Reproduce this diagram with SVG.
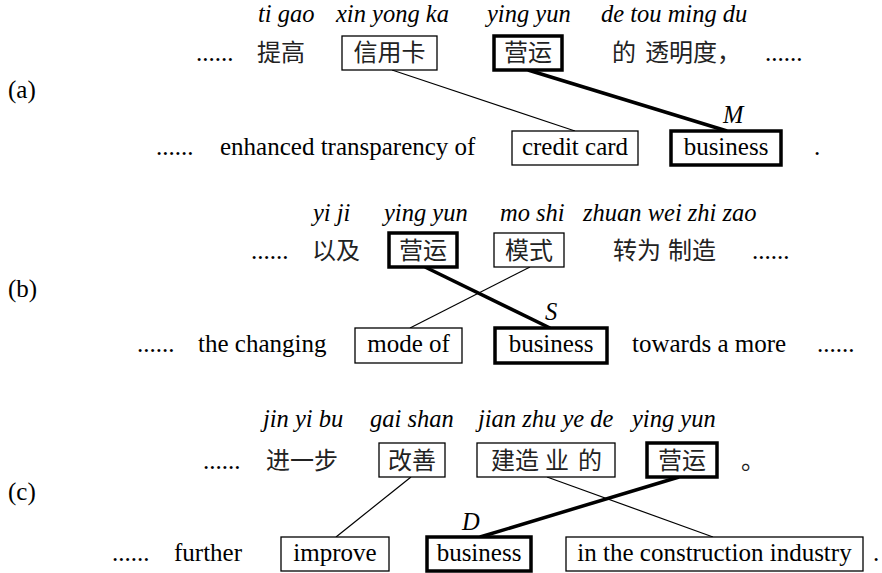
<svg xmlns="http://www.w3.org/2000/svg" width="882" height="573" viewBox="0 0 882 573">
<style>
.en{font-family:'Liberation Serif','DejaVu Serif','Noto Serif',serif;font-size:25px;fill:#000}
.py{font-family:'Liberation Serif','DejaVu Serif','Noto Serif',serif;font-size:24.5px;font-style:italic;fill:#000}
.zh{font-family:'Noto Sans CJK SC','Noto Sans CJK JP',sans-serif;font-size:24px;fill:#222}
.c{text-anchor:middle}
.box{fill:#fff;stroke:#000;stroke-width:1.3}
.tbox{fill:#fff;stroke:#000;stroke-width:3.5}
.thin{stroke:#000;stroke-width:1.2;fill:none}
.thick{stroke:#000;stroke-width:3.5;fill:none}
</style>
<rect width="882" height="573" fill="#fff"/>

<g id="connectors">
  <line class="thin" x1="392" y1="70" x2="575" y2="131"/>
  <line class="thick" x1="528" y1="70" x2="727" y2="131"/>
  <line class="thick" x1="425" y1="267" x2="550" y2="328"/>
  <line class="thin" x1="530" y1="267" x2="410" y2="328"/>
  <line class="thin" x1="411" y1="477" x2="336" y2="537"/>
  <line class="thin" x1="547" y1="477" x2="713" y2="537"/>
  <line class="thick" x1="679" y1="477" x2="480" y2="537"/>
</g>

<g id="labels">
  <text class="en" x="8" y="98" font-family="Liberation Serif, serif">(a)</text>
  <text class="en" x="8" y="297">(b)</text>
  <text class="en" x="8" y="500">(c)</text>
</g>

<!-- Row (a) -->
<g id="a-pinyin">
  <text class="py" x="258" y="22">ti gao</text>
  <text class="py" x="336" y="22">xin yong ka</text>
  <text class="py" x="487" y="22">ying yun</text>
  <text class="py" x="601" y="22">de tou ming du</text>
</g>
<g id="a-zh-dots1"><text class="en" x="196" y="61">......</text></g>
<g id="a-zh-tigao"><text class="zh" x="257" y="61">提高</text></g>
<g id="a-zh-xinyongka">
  <rect class="box" x="342" y="36" width="95" height="34"/>
  <text class="zh c" x="389.5" y="61">信用卡</text>
</g>
<g id="a-zh-yingyun">
  <rect class="tbox" x="494" y="36" width="68" height="34"/>
  <text class="zh c" x="528" y="61">营运</text>
</g>
<g id="a-zh-rest"><text class="zh" x="612" y="61">的<tspan x="645">透明度，</tspan></text></g>
<g id="a-zh-dots2"><text class="en" x="765" y="61">......</text></g>

<g id="a-en-dots"><text class="en" x="156" y="155">......</text></g>
<g id="a-en-enhanced"><text class="en" x="220" y="155">enhanced transparency of</text></g>
<g id="a-en-creditcard">
  <rect class="box" x="512" y="131" width="126" height="34"/>
  <text class="en c" x="575" y="155">credit card</text>
</g>
<g id="a-en-business">
  <rect class="tbox" x="671" y="131" width="110" height="34"/>
  <text class="en c" x="726" y="155">business</text>
  <text class="py" x="723" y="123">M</text>
</g>
<g id="a-en-period"><text class="en" x="814" y="155">.</text></g>

<!-- Row (b) -->
<g id="b-pinyin">
  <text class="py" x="313" y="221">yi ji</text>
  <text class="py" x="384" y="221">ying yun</text>
  <text class="py" x="500" y="221">mo shi</text>
  <text class="py" x="583" y="221">zhuan wei zhi zao</text>
</g>
<g id="b-zh-dots1"><text class="en" x="251" y="259">......</text></g>
<g id="b-zh-yiji"><text class="zh" x="312" y="259">以及</text></g>
<g id="b-zh-yingyun">
  <rect class="tbox" x="389" y="233" width="68" height="34"/>
  <text class="zh c" x="423" y="259">营运</text>
</g>
<g id="b-zh-moshi">
  <rect class="box" x="494" y="233" width="70" height="34"/>
  <text class="zh c" x="529" y="259">模式</text>
</g>
<g id="b-zh-rest"><text class="zh" x="613" y="259">转为<tspan x="668">制造</tspan></text></g>
<g id="b-zh-dots2"><text class="en" x="752" y="259">......</text></g>

<g id="b-en-dots1"><text class="en" x="137" y="352">......</text></g>
<g id="b-en-changing"><text class="en" x="198" y="352">the changing</text></g>
<g id="b-en-modeof">
  <rect class="box" x="355" y="328" width="107" height="35"/>
  <text class="en c" x="408.5" y="352">mode of</text>
</g>
<g id="b-en-business">
  <rect class="tbox" x="495" y="328" width="112" height="35"/>
  <text class="en c" x="551" y="352">business</text>
  <text class="py" x="545" y="320">S</text>
</g>
<g id="b-en-towards"><text class="en" x="632" y="352">towards a more</text></g>
<g id="b-en-dots2"><text class="en" x="817" y="352">......</text></g>

<!-- Row (c) -->
<g id="c-pinyin">
  <text class="py" x="263" y="427">jin yi bu</text>
  <text class="py" x="370" y="427">gai shan</text>
  <text class="py" x="478" y="427">jian zhu ye de</text>
  <text class="py" x="632" y="427">ying yun</text>
</g>
<g id="c-zh-dots"><text class="en" x="203" y="469">......</text></g>
<g id="c-zh-jinyibu"><text class="zh" x="266" y="469">进一步</text></g>
<g id="c-zh-gaishan">
  <rect class="box" x="379" y="443" width="66" height="34"/>
  <text class="zh c" x="412" y="469">改善</text>
</g>
<g id="c-zh-jianzhuyede">
  <rect class="box" x="477" y="443" width="138" height="34"/>
  <text class="zh" x="491" y="469">建造<tspan x="545">业</tspan><tspan x="578">的</tspan></text>
</g>
<g id="c-zh-yingyun">
  <rect class="tbox" x="647" y="443" width="70" height="34"/>
  <text class="zh c" x="682" y="469">营运</text>
</g>
<g id="c-zh-period"><text class="zh" x="741" y="469">。</text></g>

<g id="c-en-dots"><text class="en" x="112" y="561">......</text></g>
<g id="c-en-further"><text class="en" x="174" y="561">further</text></g>
<g id="c-en-improve">
  <rect class="box" x="281" y="537" width="108" height="34"/>
  <text class="en c" x="335" y="561">improve</text>
</g>
<g id="c-en-business">
  <rect class="tbox" x="427" y="537" width="104" height="34"/>
  <text class="en c" x="479" y="561">business</text>
  <text class="py" x="462" y="530">D</text>
</g>
<g id="c-en-construction">
  <rect class="box" x="566" y="537" width="297" height="34"/>
  <text class="en c" x="714.5" y="561">in the construction industry</text>
</g>
<g id="c-en-period"><text class="en" x="873" y="561">.</text></g>
</svg>
